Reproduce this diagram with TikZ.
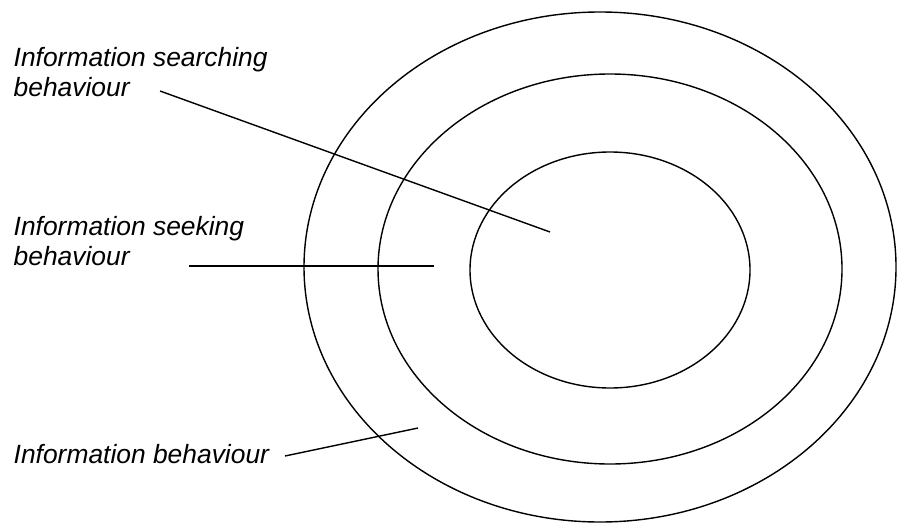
\documentclass[tikz,border=0pt]{standalone}
\usepackage{fontspec}
\setmainfont{Liberation Sans}
\usetikzlibrary{positioning}
\tikzset{
  every picture/.style={line width=0.7pt},
  ring/.style={draw=black},
  label/.style={font=\fontsize{13.2}{14.8}\selectfont\itshape, align=left, inner sep=0pt, anchor=north west},
  pointer/.style={draw=black, line width=0.7pt},
}
\begin{document}
\begin{tikzpicture}[x=0.5pt, y=-0.5pt]
  \useasboundingbox (0,0) rectangle (897,524);
  % the three nested rings
  \draw[ring] (600,267) ellipse [x radius=296, y radius=255];
  \draw[ring] (610,269) ellipse [x radius=232, y radius=195];
  \draw[ring] (610,270) ellipse [x radius=140, y radius=118];
  % labels
  \node[label] (search) at (13,47) {Information searching\\behaviour};
  \node[label] (seek) at (13,216) {Information seeking\\behaviour};
  \node[label, anchor=base west] (info) at (13,463) {Information behaviour};
  % pointer ends
  \coordinate (searchA) at (160,91);  \coordinate (searchB) at (550,232);
  \coordinate (seekA) at (189,266);   \coordinate (seekB) at (434,266);
  \coordinate (infoA) at (285,456);   \coordinate (infoB) at (418,428);
  \draw[pointer] (searchA) -- (searchB);
  \draw[pointer] (seekA) -- (seekB);
  \draw[pointer] (infoA) -- (infoB);
\end{tikzpicture}
\end{document}
